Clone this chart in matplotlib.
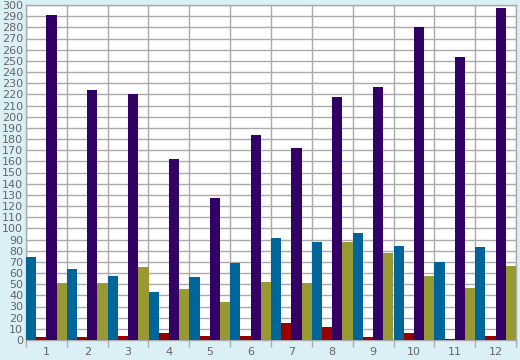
import numpy as np
import matplotlib.pyplot as plt
from matplotlib.ticker import MultipleLocator, FixedLocator

categories = ["1", "2", "3", "4", "5", "6", "7", "8", "9", "10", "11", "12"]
blue_vals = [74, 64, 57, 43, 56, 69, 91, 88, 96, 84, 70, 83]
red_vals = [3, 3, 4, 6, 4, 4, 15, 12, 3, 6, 1, 4]
purple_vals = [291, 224, 220, 162, 127, 184, 172, 218, 227, 280, 253, 297]
olive_vals = [51, 51, 65, 46, 34, 52, 51, 88, 78, 57, 47, 66]

series = [blue_vals, red_vals, purple_vals, olive_vals]
colors = ["#006699", "#990000", "#330066", "#999933"]

bg = "#daeff6"
grid_c = "#aaaaaa"
text_c = "#666666"

fig = plt.figure(figsize=(5.2, 3.6), dpi=100, facecolor=bg)
ax = fig.add_axes([26 / 520, 20 / 360, 490 / 520, 335 / 360])
ax.set_facecolor("white")

x = np.arange(len(categories))
w = 0.25
for k, (vals, c) in enumerate(zip(series, colors)):
    ax.bar(x - 0.375 + k * w, vals, width=w, color=c, linewidth=0, zorder=3)

ax.set_xlim(-0.5, len(categories) - 0.5)
ax.set_ylim(0, 300)

ax.yaxis.set_major_locator(MultipleLocator(10))
ax.set_xticks(x)
ax.set_xticklabels(categories)
ax.xaxis.set_minor_locator(FixedLocator(np.arange(-0.5, len(categories) + 0.5, 1)))

ax.grid(axis="y", which="major", color=grid_c, linewidth=1.0, zorder=0)
ax.grid(axis="x", which="minor", color=grid_c, linewidth=1.0, zorder=0)

ax.tick_params(axis="x", which="major", length=0, pad=5, labelsize=8, labelcolor=text_c)
ax.tick_params(axis="x", which="minor", length=5, width=1, color=grid_c, direction="out")
ax.tick_params(axis="y", length=0, pad=2, labelsize=8, labelcolor=text_c)

for s in ax.spines.values():
    s.set_color(grid_c)
    s.set_linewidth(1.0)

fig.savefig("out.png", dpi=100, facecolor=bg)
